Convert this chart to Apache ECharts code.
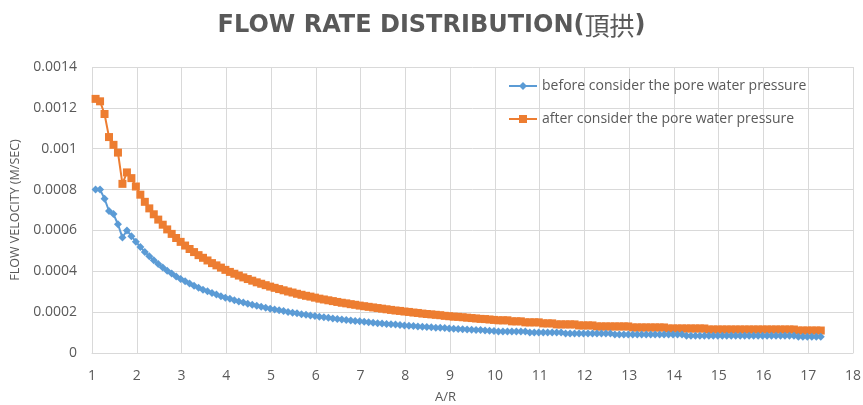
<!DOCTYPE html>
<html>
<head>
<meta charset="utf-8">
<script src="https://cdn.jsdelivr.net/npm/echarts@6/dist/echarts.min.js"></script>
<style>
  html, body { margin: 0; padding: 0; background: #ffffff; }
  #chart { width: 863px; height: 405px; }
</style>
</head>
<body>
<div id="chart"></div>
<script>
// A/R positions of the sampled points
const ratioAR = [
  1.08, 1.18, 1.28, 1.38, 1.48, 1.58, 1.68, 1.78, 1.88, 1.98,
  2.08, 2.18, 2.28, 2.38, 2.48, 2.58, 2.68, 2.78, 2.88, 2.98,
  3.08, 3.18, 3.28, 3.38, 3.48, 3.58, 3.68, 3.78, 3.88, 3.98,
  4.08, 4.18, 4.28, 4.38, 4.48, 4.58, 4.68, 4.78, 4.88, 4.98,
  5.08, 5.18, 5.28, 5.38, 5.48, 5.58, 5.68, 5.78, 5.88, 5.98,
  6.08, 6.18, 6.28, 6.38, 6.48, 6.58, 6.68, 6.78, 6.88, 6.98,
  7.08, 7.18, 7.28, 7.38, 7.48, 7.58, 7.68, 7.78, 7.88, 7.98,
  8.08, 8.18, 8.28, 8.38, 8.48, 8.58, 8.68, 8.78, 8.88, 8.98,
  9.08, 9.18, 9.28, 9.38, 9.48, 9.58, 9.68, 9.78, 9.88, 9.98,
  10.08, 10.18, 10.28, 10.38, 10.48, 10.58, 10.68, 10.78, 10.88, 10.98,
  11.08, 11.18, 11.28, 11.38, 11.48, 11.58, 11.68, 11.78, 11.88, 11.98,
  12.08, 12.18, 12.28, 12.38, 12.48, 12.58, 12.68, 12.78, 12.88, 12.98,
  13.08, 13.18, 13.28, 13.38, 13.48, 13.58, 13.68, 13.78, 13.88, 13.98,
  14.08, 14.18, 14.28, 14.38, 14.48, 14.58, 14.68, 14.78, 14.88, 14.98,
  15.08, 15.18, 15.28, 15.38, 15.48, 15.58, 15.68, 15.78, 15.88, 15.98,
  16.08, 16.18, 16.28, 16.38, 16.48, 16.58, 16.68, 16.78, 16.88, 16.98,
  17.08, 17.18, 17.28
];

// Flow velocity (m/s) without pore water pressure
const velocityBefore = [
  0.000800, 0.000800, 0.000755, 0.000695, 0.000680, 0.000630, 0.000565, 0.000600, 0.000572, 0.000545,
  0.000519, 0.000495, 0.000474, 0.000454, 0.000436, 0.000419, 0.000403, 0.000389, 0.000375, 0.000362,
  0.000351, 0.000340, 0.000329, 0.000320, 0.000310, 0.000302, 0.000294, 0.000286, 0.000278, 0.000271,
  0.000265, 0.000258, 0.000252, 0.000247, 0.000241, 0.000236, 0.000231, 0.000226, 0.000221, 0.000217,
  0.000213, 0.000209, 0.000205, 0.000201, 0.000197, 0.000194, 0.000190, 0.000187, 0.000184, 0.000181,
  0.000178, 0.000175, 0.000172, 0.000169, 0.000167, 0.000164, 0.000162, 0.000159, 0.000157, 0.000155,
  0.000153, 0.000150, 0.000148, 0.000146, 0.000144, 0.000142, 0.000141, 0.000139, 0.000137, 0.000135,
  0.000134, 0.000132, 0.000130, 0.000129, 0.000127, 0.000126, 0.000124, 0.000123, 0.000122, 0.000120,
  0.000119, 0.000118, 0.000116, 0.000115, 0.000114, 0.000113, 0.000112, 0.000110, 0.000109, 0.000108,
  0.000105, 0.000105, 0.000105, 0.000105, 0.000105, 0.000105, 0.000105, 0.000100, 0.000100, 0.000100,
  0.000100, 0.000100, 0.000100, 0.000100, 0.000100, 0.000095, 0.000095, 0.000095, 0.000095, 0.000095,
  0.000095, 0.000095, 0.000095, 0.000095, 0.000095, 0.000095, 0.000090, 0.000090, 0.000090, 0.000090,
  0.000090, 0.000090, 0.000090, 0.000090, 0.000090, 0.000090, 0.000090, 0.000090, 0.000090, 0.000090,
  0.000090, 0.000090, 0.000085, 0.000085, 0.000085, 0.000085, 0.000085, 0.000085, 0.000085, 0.000085,
  0.000085, 0.000085, 0.000085, 0.000085, 0.000085, 0.000085, 0.000085, 0.000085, 0.000085, 0.000085,
  0.000085, 0.000085, 0.000085, 0.000085, 0.000085, 0.000085, 0.000085, 0.000080, 0.000080, 0.000080,
  0.000080, 0.000080, 0.000080
];

// Flow velocity (m/s) with pore water pressure
const velocityAfter = [
  0.001244, 0.001232, 0.001170, 0.001057, 0.001019, 0.000981, 0.000828, 0.000884, 0.000856, 0.000815,
  0.000775, 0.000740, 0.000708, 0.000679, 0.000653, 0.000628, 0.000605, 0.000583, 0.000563, 0.000544,
  0.000526, 0.000509, 0.000494, 0.000479, 0.000466, 0.000453, 0.000440, 0.000429, 0.000418, 0.000407,
  0.000397, 0.000388, 0.000379, 0.000370, 0.000362, 0.000354, 0.000346, 0.000339, 0.000332, 0.000325,
  0.000319, 0.000313, 0.000307, 0.000301, 0.000296, 0.000290, 0.000285, 0.000280, 0.000276, 0.000271,
  0.000266, 0.000262, 0.000258, 0.000254, 0.000250, 0.000246, 0.000243, 0.000239, 0.000236, 0.000232,
  0.000229, 0.000226, 0.000223, 0.000220, 0.000217, 0.000214, 0.000211, 0.000208, 0.000206, 0.000203,
  0.000201, 0.000198, 0.000196, 0.000193, 0.000191, 0.000189, 0.000187, 0.000185, 0.000182, 0.000180,
  0.000178, 0.000177, 0.000175, 0.000173, 0.000171, 0.000169, 0.000167, 0.000166, 0.000164, 0.000162,
  0.000160, 0.000160, 0.000160, 0.000155, 0.000155, 0.000155, 0.000150, 0.000150, 0.000150, 0.000150,
  0.000145, 0.000145, 0.000145, 0.000140, 0.000140, 0.000140, 0.000140, 0.000140, 0.000135, 0.000135,
  0.000135, 0.000135, 0.000130, 0.000130, 0.000130, 0.000130, 0.000130, 0.000130, 0.000130, 0.000130,
  0.000125, 0.000125, 0.000125, 0.000125, 0.000125, 0.000125, 0.000125, 0.000125, 0.000120, 0.000120,
  0.000120, 0.000120, 0.000120, 0.000120, 0.000120, 0.000120, 0.000120, 0.000115, 0.000115, 0.000115,
  0.000115, 0.000115, 0.000115, 0.000115, 0.000115, 0.000115, 0.000115, 0.000115, 0.000115, 0.000115,
  0.000115, 0.000115, 0.000115, 0.000115, 0.000115, 0.000115, 0.000115, 0.000110, 0.000110, 0.000110,
  0.000110, 0.000110, 0.000110
];

const seriesNames = [
  'before consider the pore water pressure',
  'after consider the pore water pressure'
];

const textColor = '#595959';
const gridColor = '#d9d9d9';
const baseFont = '"Open Sans", "Noto Sans", sans-serif';

const pairs = (xs, ys) => xs.map((x, i) => [x, ys[i]]);

const chart = echarts.init(document.getElementById('chart'), null, { renderer: 'canvas' });

chart.setOption({
  animation: false,
  backgroundColor: '#ffffff',
  title: {
    // Latin part in bold, the Chinese location name in regular weight
    text: 'FLOW RATE DISTRIBUTION({cjk|頂拱})',
    left: 'center',
    top: 8,
    textStyle: {
      fontFamily: '"DejaVu Sans", "Noto Sans CJK TC", sans-serif',
      fontSize: 24,
      fontWeight: 'bold',
      color: textColor,
      rich: {
        cjk: {
          fontFamily: '"Noto Sans CJK TC", sans-serif',
          fontSize: 25,
          fontWeight: 'normal',
          color: textColor
        }
      }
    }
  },
  legend: {
    orient: 'vertical',
    left: 503,
    top: 74,
    itemWidth: 28,
    itemHeight: 10,
    itemGap: 19,
    textStyle: { fontFamily: baseFont, fontSize: 14, color: textColor },
    data: seriesNames
  },
  grid: { left: 92, right: 10, top: 67, bottom: 52, containLabel: false, outerBoundsMode: 'none' },
  xAxis: {
    type: 'value',
    min: 1,
    max: 18,
    interval: 1,
    name: 'A/R',
    nameLocation: 'middle',
    nameGap: 38,
    nameTextStyle: { fontFamily: baseFont, fontSize: 13, color: textColor, padding: [0, 54, 0, 0] },
    axisLine: { show: true, lineStyle: { color: gridColor, width: 1 } },
    axisTick: { show: false },
    axisLabel: { fontFamily: baseFont, fontSize: 14, color: textColor, margin: 16 },
    splitLine: { show: true, lineStyle: { color: gridColor, width: 1 } }
  },
  yAxis: {
    type: 'value',
    min: 0,
    max: 0.0014,
    interval: 0.0002,
    name: 'FLOW VELOCITY (M/SEC)',
    nameLocation: 'middle',
    nameGap: 67,
    nameRotate: 90,
    nameTextStyle: { fontFamily: baseFont, fontSize: 12.5, color: textColor },
    axisLine: { show: false },
    axisTick: { show: false },
    axisLabel: {
      fontFamily: baseFont,
      fontSize: 14,
      color: textColor,
      margin: 15,
      formatter: v => String(parseFloat(v.toPrecision(6)))
    },
    splitLine: { show: true, lineStyle: { color: gridColor, width: 1 } }
  },
  series: [
    {
      name: seriesNames[0],
      type: 'line',
      data: pairs(ratioAR, velocityBefore),
      symbol: 'diamond',
      symbolSize: 8,
      showAllSymbol: true,
      color: '#5b9bd5',
      lineStyle: { width: 2, color: '#5b9bd5' },
      itemStyle: { color: '#5b9bd5' },
      z: 3
    },
    {
      name: seriesNames[1],
      type: 'line',
      data: pairs(ratioAR, velocityAfter),
      symbol: 'rect',
      symbolSize: 8,
      showAllSymbol: true,
      color: '#ed7d31',
      lineStyle: { width: 2, color: '#ed7d31' },
      itemStyle: { color: '#ed7d31' },
      z: 2
    }
  ]
});
</script>
</body>
</html>
